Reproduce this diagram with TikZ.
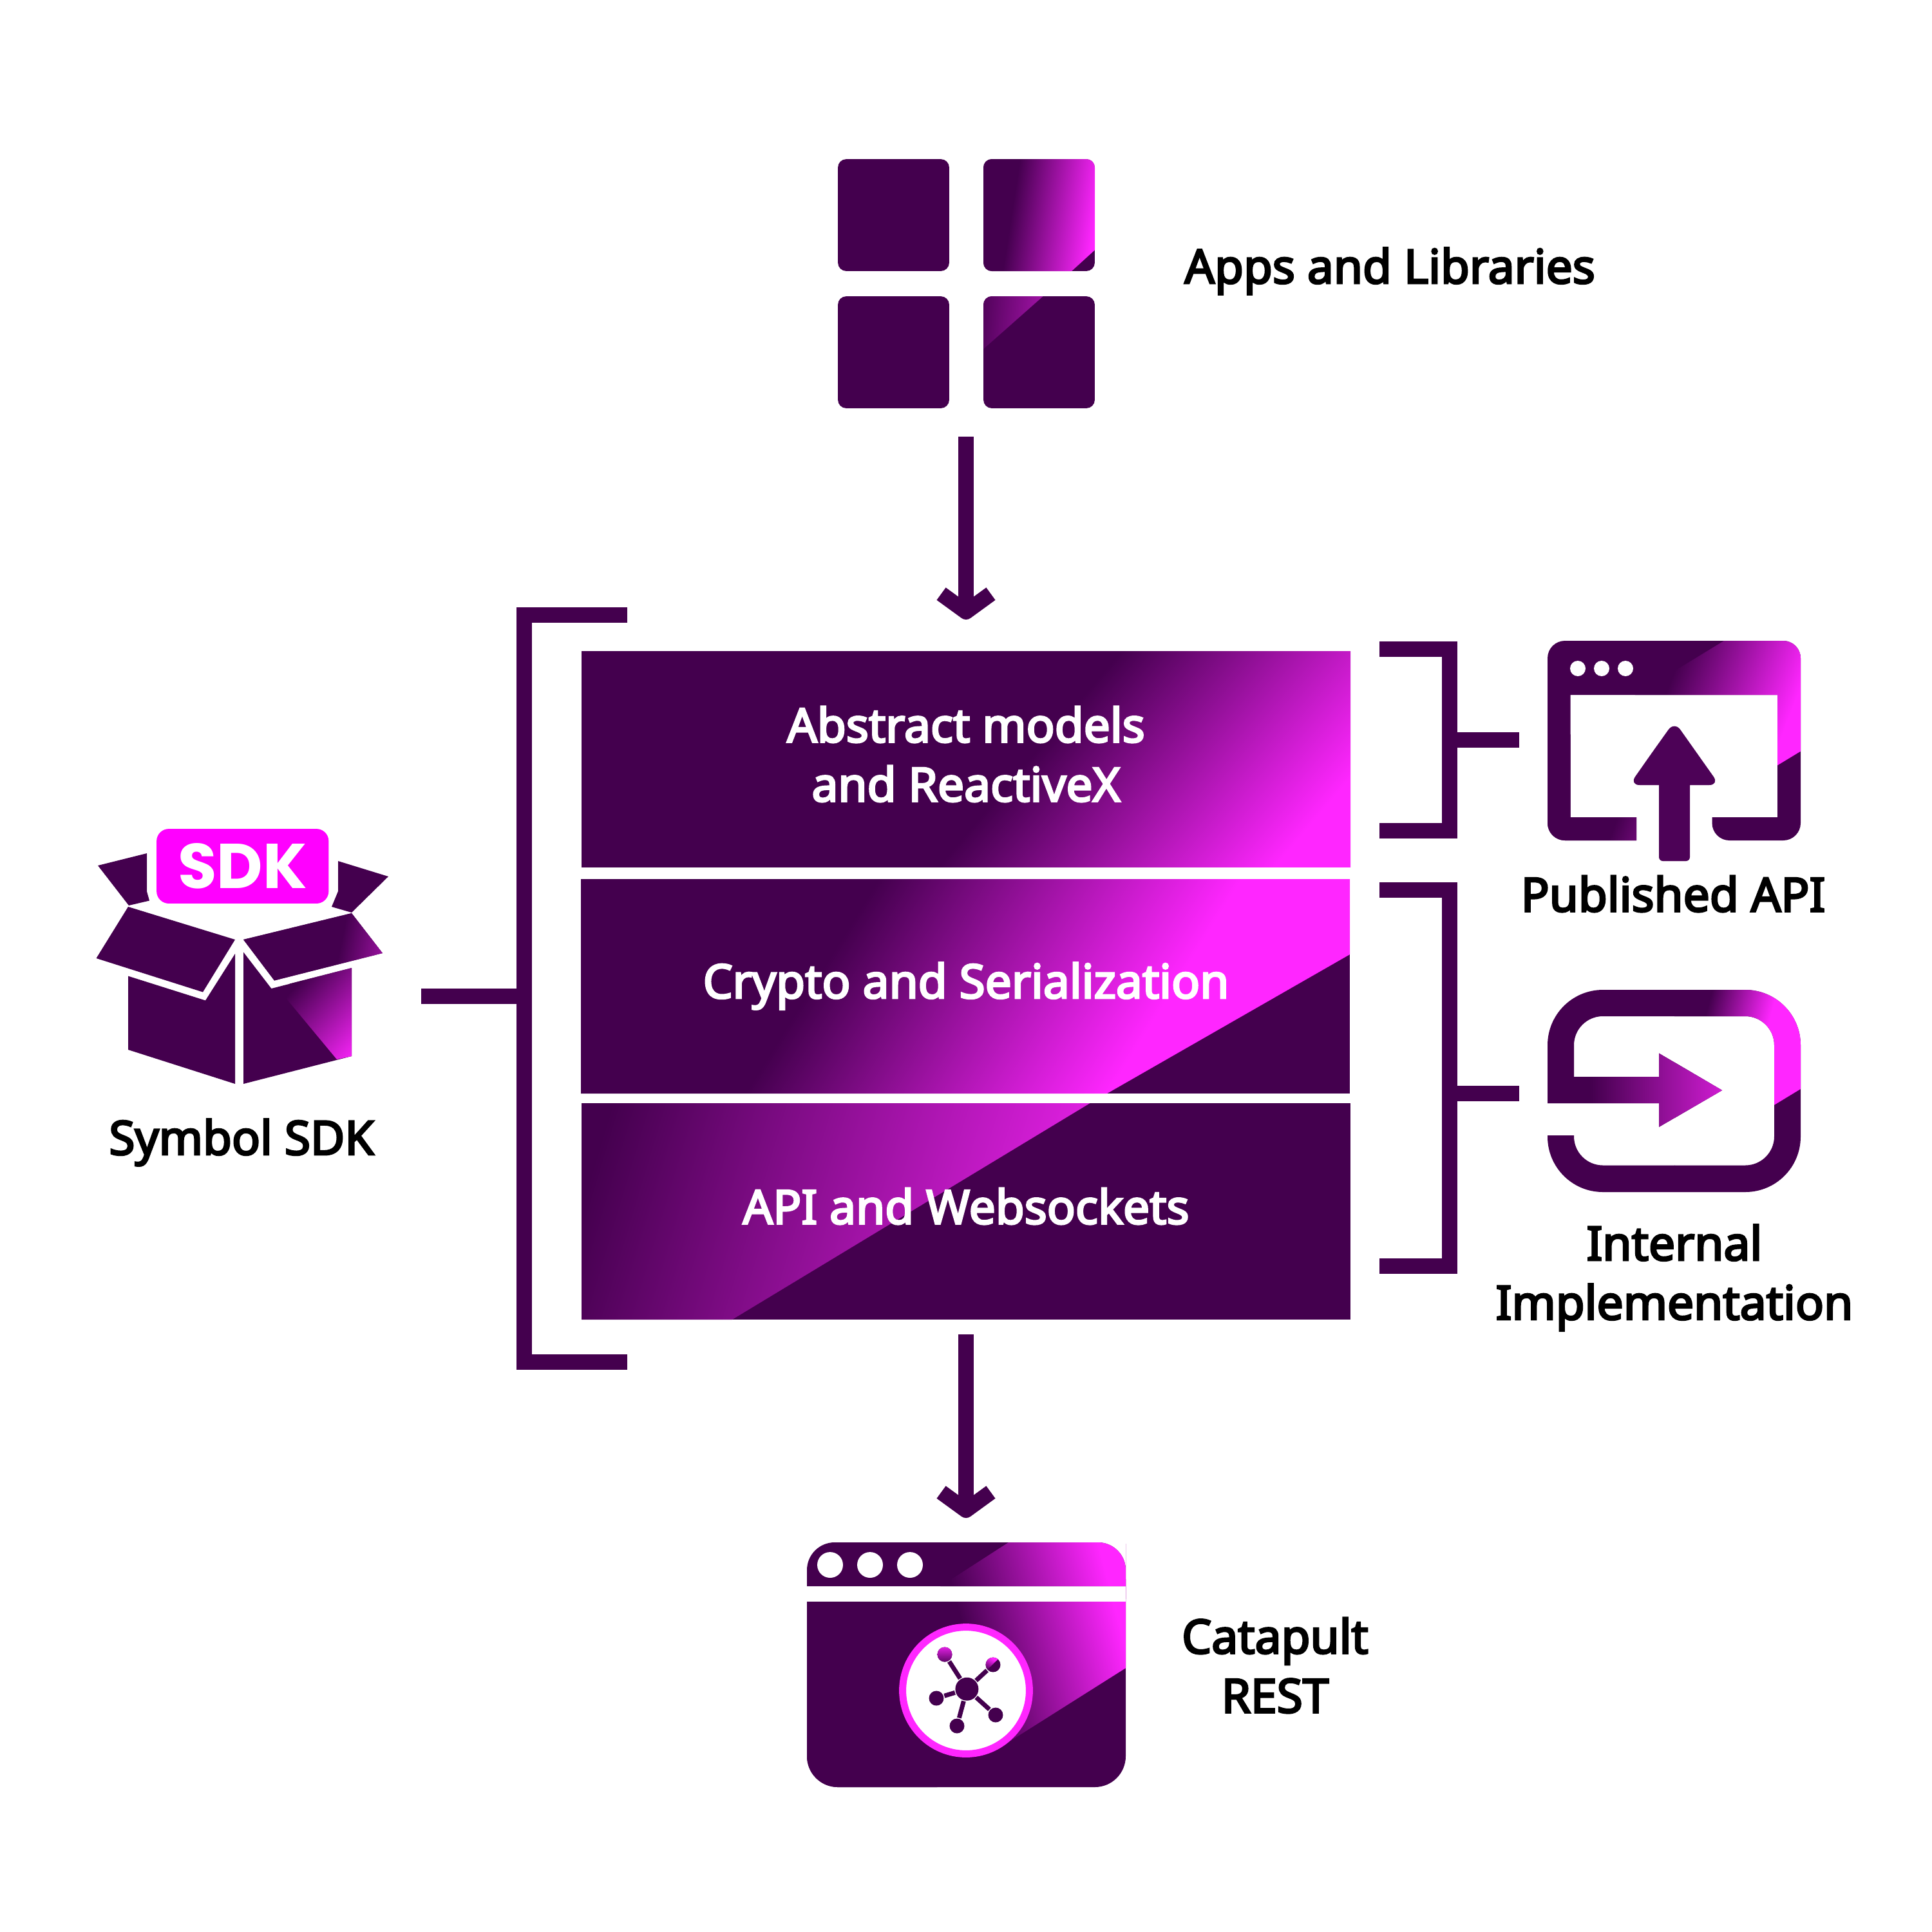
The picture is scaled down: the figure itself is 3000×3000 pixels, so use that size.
\documentclass[tikz,border=0pt]{standalone}
\usepackage{xcolor}
\usepackage{fontspec}
\usepackage{tikz}
\usetikzlibrary{arrows.meta,positioning}
\setmainfont{Noto Sans}[FakeBold=4]
\newfontfamily\badgefont{Poppins}
\definecolor{pdark}{HTML}{44004E}
\definecolor{pmag}{HTML}{FF26FF}
\definecolor{pbadge}{HTML}{FF00FF}
\pgfdeclarehorizontalshading{darkmag}{100bp}{color(0bp)=(pdark); color(47.5bp)=(pdark); color(52.5bp)=(pmag); color(100bp)=(pmag)}
% clip commands, then start and end of the colour ramp
\newcommand{\rampfill}[5]{%
  \begin{scope}
    #1
    \pgfmathsetmacro\rampLen{veclen(#4-#2,#5-#3)}
    \pgfmathsetmacro\rampAng{atan2(#3-#5,#4-#2)}
    \shade[shading=darkmag, shading angle=\rampAng] ({(#2+#4)/2-5*\rampLen},{(#3+#5)/2-5*\rampLen}) rectangle ({(#2+#4)/2+5*\rampLen},{(#3+#5)/2+5*\rampLen});
  \end{scope}}
\newcommand{\pubframe}{(2541,1305) [rounded corners=0.135cm] -- (2403,1305) -- (2403,995) -- (2796,995) -- (2796,1305) -- (2658.5,1305) [sharp corners] -- (2658.5,1269) -- (2760,1269) -- (2760,1079) -- (2438.5,1079) -- (2438.5,1269) -- (2541,1269) -- cycle}
\newcommand{\intframe}{(2403,1713) [rounded corners=0.43cm] -- (2403,1537) -- (2796,1537) -- (2796,1851) -- (2403,1851) [sharp corners] -- (2403,1763) -- (2444,1763) [rounded corners=0.225cm] -- (2444,1809.5) -- (2755,1809.5) -- (2755,1578) -- (2444,1578) [sharp corners] -- (2444,1672) -- (2576,1672) -- (2576,1635.5) -- (2674,1693) -- (2576,1750) -- (2576,1713) -- cycle}
\newcommand{\restbar}{(1253,2463) [rounded corners=0.215cm] -- (1253,2395) -- (1748,2395) -- (1748,2440) [sharp corners] -- (1748,2463) -- cycle}
\newcommand{\restbody}{(1253,2487) [rounded corners=0.24cm] -- (1253,2775) -- (1748,2775) -- (1748,2500) [sharp corners] -- (1748,2487) -- cycle}

\begin{document}
\begin{tikzpicture}[
  x=0.005cm, y=-0.005cm,
  label/.style={align=center, inner sep=0pt, text=black, font=\fontsize{10.4}{13.1}\selectfont},
  stackbar/.style={align=center, inner sep=0pt, text=white, minimum width=5.97cm, font=\fontsize{10.4}{13.1}\selectfont},
  appsq/.style={fill=pdark, rounded corners=0.065cm, minimum width=0.865cm, minimum height=0.87cm, inner sep=0pt},
  dot/.style={circle, fill=white, inner sep=0pt},
  satnode/.style={circle, fill=pdark, inner sep=0pt, minimum size=0.115cm},
  linkline/.style={draw=pdark, line width=0.035cm},
  bracket/.style={draw=pdark, line width=0.12cm},
  arrow/.style={bracket, -{Straight Barb[length=0.14cm, width=0.385cm, line join=round]}}
]
\useasboundingbox (0,0) rectangle (3000,3000);

% Apps
\node[appsq] (appa) at (1387.5,334) {};
\node[appsq] (appb) at (1613.5,334) {};
\node[appsq] (appc) at (1387.5,547) {};
\node[appsq] (appd) at (1613.5,547) {};
\rampfill{\clip[rounded corners=0.065cm] (1527,247) rectangle (1700,421); \clip (1500,230) -- (1720,230) -- (1720,370) -- (1664,421) -- (1500,440) -- cycle;}{1575}{300}{1705}{320}
\rampfill{\clip[rounded corners=0.065cm] (1527,460) rectangle (1700,633); \clip (1500,450) -- (1631,450) -- (1527,542) -- (1500,565) -- cycle;}{1510}{470}{1730}{490}
\node[label, anchor=west] (appslabel) at (1838,421) {Apps and Libraries};

% Stack
\fill[pdark] (903,1011) rectangle (2097,1346);
\rampfill{\clip (903,1011) rectangle (2097,1346);}{1740}{1011}{2045}{1270}
\fill[pdark] (902,1365) rectangle (2096,1698);
\rampfill{\clip (902,1365) -- (2096,1365) -- (2096,1482) -- (1719,1698) -- (902,1698) -- cycle;}{1363}{1365}{1771}{1619}
\fill[pdark] (903,1713) rectangle (2097,2049);
\rampfill{\clip (903,1713) -- (1692.5,1713) -- (1137,2049) -- (903,2049) -- cycle;}{950}{1713}{1775}{1960}
\node[stackbar] (abstract) at (1500,1171) {Abstract models\\and ReactiveX};
\node[stackbar] (crypto) at (1500,1531) {Crypto and Serialization};
\node[stackbar] (apiws) at (1500,1873) {API and Websockets};

% Symbol SDK box
\fill[pdark] (152,1344) -- (228,1325) -- (228,1384) -- (232,1398.5) -- (200,1406) -- cycle;
\fill[pdark] (525,1337) -- (603,1361) -- (546,1417) -- (515,1408) -- (525,1384) -- cycle;
\fill[pdark] (199,1408) -- (365,1459) -- (315,1540.5) -- (149.5,1488) -- cycle;
\fill[pdark] (378,1459) -- (546,1418) -- (594,1480) -- (426,1522.5) -- cycle;
\rampfill{\clip (378,1459) -- (546,1418) -- (594,1480) -- (426,1522.5) -- cycle;}{530}{1460}{680}{1490}
\fill[pdark] (199,1515.6) -- (319,1553.5) -- (365,1481) -- (365,1683) -- (199,1630) -- cycle;
\fill[pdark] (378,1478.5) -- (421.4,1535) -- (546,1503) -- (546,1640) -- (378,1683) -- cycle;
\rampfill{\clip (546,1503) -- (546,1640) -- (523,1645) -- (440,1545) -- (450,1527.5) -- cycle;}{450}{1540}{560}{1640}
\node[rounded corners=0.095cm, fill=pbadge, text=white, minimum width=1.3375cm, minimum height=0.58cm, inner sep=0pt, font=\badgefont\bfseries\fontsize{14}{14}\selectfont] (sdkbadge) at (376.75,1345) {SDK};
\node[label] (sdklabel) at (375,1774) {Symbol SDK};

% Published API
\fill[pdark] \pubframe;
\rampfill{\clip \pubframe; \clip (2677,995) -- (2820,995) -- (2820,1152) -- (2403,1405) -- (2403,1162) -- cycle;}{2600}{1040}{2780}{1110}
\node[dot, minimum size=0.12cm] (puba) at (2450,1038) {};
\node[dot, minimum size=0.12cm] (pubb) at (2487,1038) {};
\node[dot, minimum size=0.12cm] (pubc) at (2524,1038) {};
\fill[pdark!95!pmag, rounded corners=0.08cm] (2565,1169) -- (2600,1120) -- (2670,1219) [sharp corners] -- (2624,1219) [rounded corners=0.03cm] -- (2624,1337) -- (2576,1337) [sharp corners] -- (2576,1219) [rounded corners=0.08cm] -- (2530,1219) -- cycle;
\node[label] (publabel) at (2598,1388) {Published API};

% Internal Implementation
\fill[pdark] \intframe;
\rampfill{\clip \intframe; \clip (2600,1530) -- (2800,1530) -- (2800,1688.5) -- (2600,1810) -- cycle;}{2655}{1550}{2750}{1575}
\rampfill{\clip (2403,1672) -- (2576,1672) -- (2576,1635.5) -- (2674,1693) -- (2576,1750) -- (2576,1713) -- (2403,1713) -- cycle;}{2470}{1693}{2745}{1693}
\node[label] (intlabel) at (2600,1984) {Internal\\Implementation};

% Catapult REST
\fill[pdark] \restbar;
\fill[pdark] \restbody;
\rampfill{\clip \restbar; \clip (1566,2395) -- (1760,2395) -- (1760,2582.5) -- (1400,2810) -- (1253,2810) -- (1253,2597) -- cycle;}{1500}{2550}{1730}{2490}
\rampfill{\clip \restbody; \clip (1566,2395) -- (1760,2395) -- (1760,2582.5) -- (1400,2810) -- (1253,2810) -- (1253,2597) -- cycle;}{1500}{2550}{1730}{2490}
\node[dot, minimum size=0.2cm] (resta) at (1289,2430) {};
\node[dot, minimum size=0.2cm] (restb) at (1351,2430) {};
\node[dot, minimum size=0.2cm] (restc) at (1413,2430) {};
\node[circle, fill=white, draw=pmag, line width=0.055cm, minimum size=0.985cm, inner sep=0pt] (restring) at (1500,2625) {};
\node[circle, fill=pdark, minimum size=0.18cm, inner sep=0pt] (hub) at (1501.4,2622.7) {};
\node[satnode] (sata) at (1467,2569) {};
\node[satnode] (satb) at (1542,2585) {};
\node[satnode] (satc) at (1454,2637) {};
\node[satnode] (satd) at (1546,2663) {};
\node[satnode] (sate) at (1486,2680) {};
\foreach \sat in {sata,satb,satc,satd,sate}
  \draw[linkline] (hub) -- (\sat);
\rampfill{\clip (1467,2569) circle[radius=11.5];}{1467}{2585}{1467}{2552}
\rampfill{\clip (1542,2585) circle[radius=11.5]; \clip (1520,2560) -- (1560,2560) -- (1549,2577) -- (1533.6,2592) -- (1520,2600) -- cycle;}{1530}{2592}{1540}{2575}
\node[label] (restlabel) at (1980,2586) {Catapult\\REST};

% Arrows
\coordinate (appsout) at (1500,678);
\coordinate (stackin) at (1500,962);
\coordinate (stackout) at (1500,2072);
\coordinate (restin) at (1500,2357);
\draw[arrow] (appsout) -- (stackin);
\draw[arrow] (stackout) -- (restin);

% Brackets
\coordinate (lbtop) at (974,955);
\coordinate (lbbot) at (974,2115);
\coordinate (lbspine) at (814,1547);
\coordinate (sdkout) at (654,1547);
\draw[bracket] (lbtop) -| (lbspine) |- (lbbot);
\draw[bracket] (sdkout) -- (lbspine);
\coordinate (putop) at (2142,1007.5);
\coordinate (pubot) at (2142,1290);
\coordinate (puspine) at (2251,1149);
\coordinate (puout) at (2359,1149);
\draw[bracket] (putop) -| (puspine) |- (pubot);
\draw[bracket] (puspine) -- (puout);
\coordinate (intop) at (2142,1382);
\coordinate (inbot) at (2142,1966);
\coordinate (inspine) at (2251,1698);
\coordinate (inout) at (2359,1698);
\draw[bracket] (intop) -| (inspine) |- (inbot);
\draw[bracket] (inspine) -- (inout);
\end{tikzpicture}
\end{document}
